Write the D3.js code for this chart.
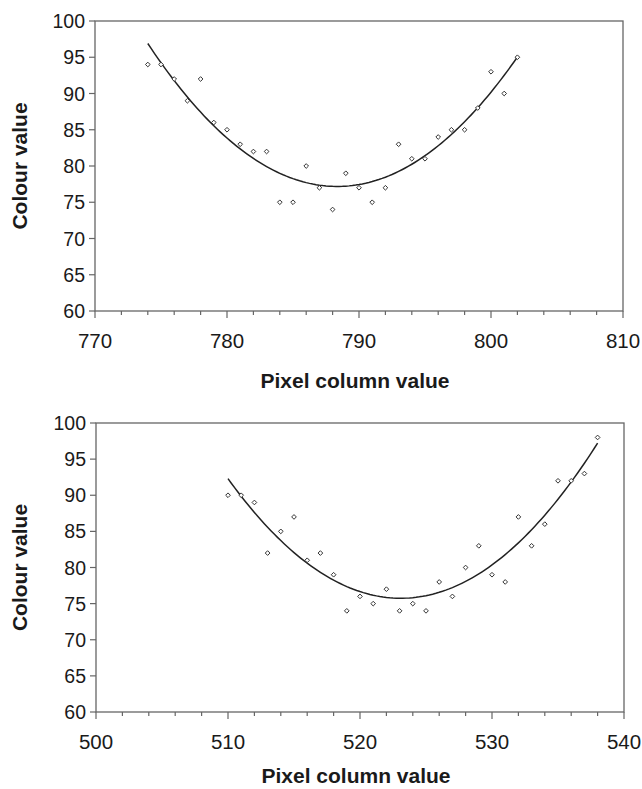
<!DOCTYPE html>
<html><head><meta charset="utf-8">
<script src="https://cdn.jsdelivr.net/npm/d3@7"></script>
<style>body{margin:0;background:#fff}svg{display:block}</style>
</head><body>
<svg id="c" width="642" height="789"></svg>
<script>
// Top chart data
const topX = [774,775,776,777,778,779,780,781,782,783,784,785,786,787,788,789,790,791,792,793,794,795,796,797,798,799,800,801,802];
const topY = [94,94,92,89,92,86,85,83,82,82,75,75,80,77,74,79,77,75,77,83,81,81,84,85,85,88,93,90,95];
const topDomain = [770, 810];
// Bottom chart data
const botX = [510,511,512,513,514,515,516,517,518,519,520,521,522,523,524,525,526,527,528,529,530,531,532,533,534,535,536,537,538];
const botY = [90,90,89,82,85,87,81,82,79,74,76,75,77,74,75,74,78,76,80,83,79,78,87,83,86,92,92,93,98];
const botDomain = [500, 540];
const yTicks = [60,65,70,75,80,85,90,95,100];
const yTitle = "Colour value";
const xTitle = "Pixel column value";

// quadratic least squares fit (polynomial trendline)
function quadFit(xs, ys) {
  const x0 = d3.mean(xs);
  let S = Array(5).fill(0), T = Array(3).fill(0);
  xs.forEach((x, i) => {
    const u = x - x0;
    for (let k = 0; k < 5; k++) S[k] += Math.pow(u, k);
    for (let k = 0; k < 3; k++) T[k] += ys[i] * Math.pow(u, k);
  });
  const A = [[S[0],S[1],S[2],T[0]],[S[1],S[2],S[3],T[1]],[S[2],S[3],S[4],T[2]]];
  for (let i = 0; i < 3; i++) {
    for (let j = i+1; j < 3; j++) {
      const f = A[j][i]/A[i][i];
      for (let k = i; k < 4; k++) A[j][k] -= f*A[i][k];
    }
  }
  const c = [0,0,0];
  for (let i = 2; i >= 0; i--) {
    let s = A[i][3];
    for (let k = i+1; k < 3; k++) s -= A[i][k]*c[k];
    c[i] = s/A[i][i];
  }
  return x => c[0] + c[1]*(x-x0) + c[2]*(x-x0)*(x-x0);
}

const svg = d3.select("#c");
const font = "'Liberation Sans', Arial, sans-serif";

function drawChart(xs, ys, domain, box) {
  const g = svg.append("g");
  const x = d3.scaleLinear().domain(domain).range([box.left, box.right]);
  const y = d3.scaleLinear().domain([60, 100]).range([box.bottom, box.top]);
  const frame = "#666";

  g.append("rect").attr("x", box.left).attr("y", box.top)
    .attr("width", box.right - box.left).attr("height", box.bottom - box.top)
    .attr("fill", "none").attr("stroke", frame).attr("stroke-width", 1.3);

  g.selectAll(".yt").data(yTicks).enter().append("line")
    .attr("x1", box.left - 6).attr("x2", box.left)
    .attr("y1", d => y(d)).attr("y2", d => y(d))
    .attr("stroke", frame).attr("stroke-width", 1.2);
  g.selectAll(".yl").data(yTicks).enter().append("text")
    .attr("x", box.left - 10).attr("y", d => y(d) + 7)
    .attr("text-anchor", "end").attr("font-family", font).attr("font-size", 19.5)
    .attr("fill", "#1a1a1a").text(d => d);

  const minor = d3.range(domain[0], domain[1] + 0.1, 2);
  g.selectAll(".xm").data(minor).enter().append("line")
    .attr("x1", d => x(d)).attr("x2", d => x(d))
    .attr("y1", box.bottom).attr("y2", d => box.bottom + ((d - domain[0]) % 10 === 0 ? 7 : 4))
    .attr("stroke", frame).attr("stroke-width", 1.2);
  const major = d3.range(domain[0], domain[1] + 0.1, 10);
  g.selectAll(".xl").data(major).enter().append("text")
    .attr("x", d => x(d)).attr("y", box.bottom + 37)
    .attr("text-anchor", "middle").attr("font-family", font).attr("font-size", 20.5)
    .attr("fill", "#1a1a1a").text(d => d);

  g.append("text").attr("x", (box.left + box.right) / 2 - 4).attr("y", box.bottom + box.titleOff)
    .attr("text-anchor", "middle").attr("font-family", font).attr("font-size", 21)
    .attr("font-weight", "bold").attr("fill", "#1a1a1a").text(xTitle);
  g.append("text").attr("transform", `translate(27,${(box.top + box.bottom) / 2}) rotate(-90)`)
    .attr("text-anchor", "middle").attr("font-family", font).attr("font-size", 21)
    .attr("font-weight", "bold").attr("fill", "#1a1a1a").text(yTitle);

  const f = quadFit(xs, ys);
  const xr = d3.range(xs[0], xs[xs.length - 1] + 0.001, 0.25);
  g.append("path").datum(xr)
    .attr("d", d3.line().x(d => x(d)).y(d => y(f(d))))
    .attr("fill", "none").attr("stroke", "#222").attr("stroke-width", 1.5);

  const sym = d3.symbol().type(d3.symbolDiamond2).size(14);
  g.selectAll(".pt").data(xs).enter().append("path")
    .attr("transform", (d, i) => `translate(${x(d)},${y(ys[i])})`)
    .attr("d", sym).attr("fill", "#fff").attr("stroke", "#333").attr("stroke-width", 1);
}

drawChart(topX, topY, topDomain, {left: 95, right: 623, top: 21, bottom: 311, titleOff: 77});
drawChart(botX, botY, botDomain, {left: 96, right: 624, top: 423, bottom: 712, titleOff: 71});
</script>
</body></html>
